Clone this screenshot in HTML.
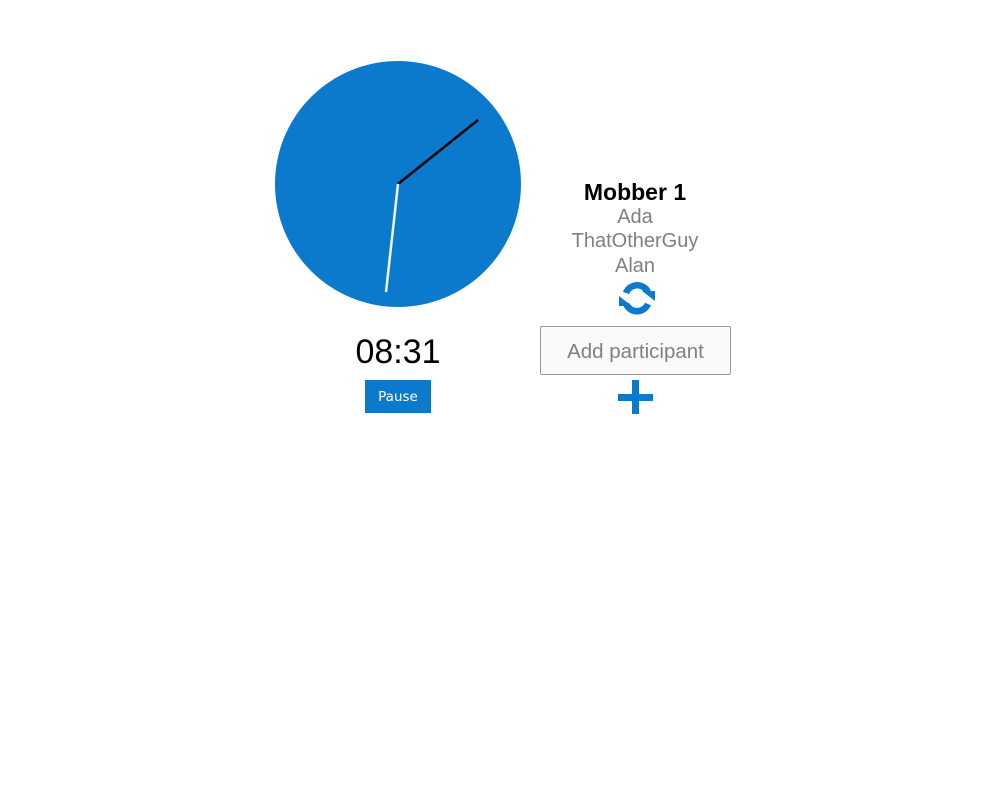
<!DOCTYPE html>
<html><head><meta charset="utf-8"><style>
body{margin:0;width:1000px;height:800px;background:#fff;position:relative;font-family:"Liberation Sans",sans-serif;overflow:hidden}
.a{position:absolute}
</style></head><body>
<svg class="a" style="left:0;top:0" width="1000" height="800">
<circle cx="398" cy="184" r="123" fill="#0c7acc"/>
<line x1="398" y1="184" x2="478" y2="120" stroke="#000" stroke-width="2.5"/>
<line x1="398" y1="184" x2="386" y2="292" stroke="#f2f2f2" stroke-width="2.5"/>
<g fill="none" stroke="#0c7acc" stroke-width="6.5">
<path d="M626 293 A12 12 0 0 1 648 292"/>
<path d="M648 304 A12 12 0 0 1 626 304"/>
<polygon points="642,291 655,291 655,301" fill="#0c7acc" stroke="none"/>
<polygon points="619,306 632,306 619,296" fill="#0c7acc" stroke="none"/>
</g>
<g fill="#0c7acc">
<rect x="618" y="394" width="35" height="7"/>
<rect x="632" y="380" width="7" height="34"/>
</g>
</svg>
<div class="a" style="left:298px;width:200px;top:331px;text-align:center;font-size:34px;line-height:42px">08:31</div>
<div class="a" style="left:365px;top:380px;width:66px;height:33px;background:#0c7acc;color:#fff;font-family:'DejaVu Sans',sans-serif;font-size:13.5px;line-height:35px;text-align:center">Pause</div>
<div class="a" style="left:535px;width:200px;top:180px;text-align:center;font-size:20px;line-height:24.5px;color:#808080">
<div style="color:#000;font-weight:bold;font-size:23px">Mobber 1</div>
<div>Ada</div>
<div>ThatOtherGuy</div>
<div>Alan</div>
</div>
<div class="a" style="left:540px;top:326px;width:189px;height:47px;border:1px solid #999;border-radius:2px;background:#fafafa;color:#808080;font-size:20.5px;line-height:49px;text-align:center">Add participant</div>
</body></html>
